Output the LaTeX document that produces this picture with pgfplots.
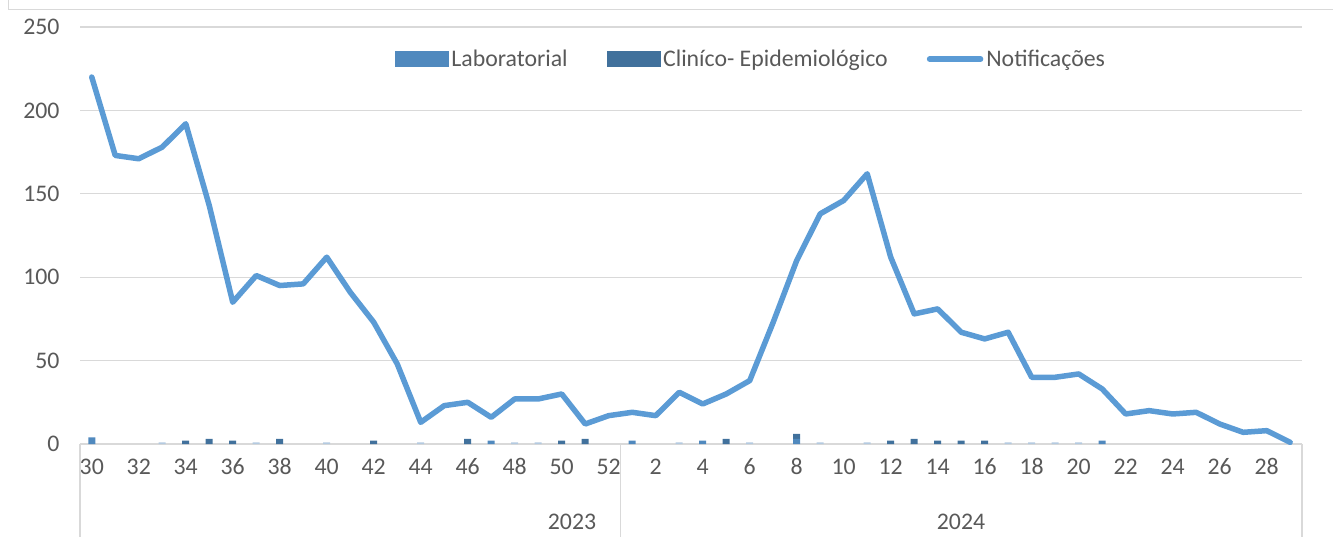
\documentclass[border=0pt]{standalone}
\usepackage{fontspec}
\setmainfont{Carlito}
\usepackage{pgfplots}
\pgfplotsset{compat=1.18}
\usepackage{pgfplotstable}
\definecolor{lab}{HTML}{5089BE}
\definecolor{clin}{HTML}{41719C}
\definecolor{lite}{HTML}{B4CAE0}
\definecolor{notif}{HTML}{5B9BD5}
\definecolor{gridc}{HTML}{D9D9D9}
\definecolor{txt}{HTML}{595959}

\pgfplotstableread{
idx week notif lab clin lite
0 30 220 4 0 0
1 31 173 0 0 0
2 32 171 0 0 0
3 33 178 0 0 1
4 34 192 0 2 0
5 35 143 0 3 0
6 36 85 0 2 0
7 37 101 0 0 1
8 38 95 0 3 0
9 39 96 0 0 0
10 40 112 0 0 1
11 41 91 0 0 0
12 42 73 0 2 0
13 43 48 0 0 0
14 44 13 0 0 1
15 45 23 0 0 0
16 46 25 0 3 0
17 47 16 2 0 0
18 48 27 0 0 1
19 49 27 0 0 1
20 50 30 0 2 0
21 51 12 0 3 0
22 52 17 0 0 0
23 1 19 2 0 0
24 2 17 0 0 0
25 3 31 0 0 1
26 4 24 2 0 0
27 5 30 0 3 0
28 6 38 0 0 1
29 7 73 0 0 0
30 8 110 3 3 0
31 9 138 0 0 1
32 10 146 0 0 0
33 11 162 0 0 1
34 12 112 0 2 0
35 13 78 0 3 0
36 14 81 0 2 0
37 15 67 0 2 0
38 16 63 0 2 0
39 17 67 0 0 1
40 18 40 0 0 1
41 19 40 0 0 1
42 20 42 0 0 1
43 21 33 2 0 0
44 22 18 0 0 0
45 23 20 0 0 0
46 24 18 0 0 0
47 25 19 0 0 0
48 26 12 0 0 0
49 27 7 0 0 0
50 28 8 0 0 0
51 29 1 0 0 0
}\data

\newcommand{\lblfont}{\fontsize{23.8}{28}\selectfont}

\begin{document}
\begin{tikzpicture}
\useasboundingbox (0pt,0pt) rectangle (1333pt,552pt);
\draw[gridc, line width=1pt] (8.5pt,552pt) -- (8.5pt,542.5pt) -- (1333pt,542.5pt);

\begin{axis}[
  at={(80pt,108pt)}, anchor=south west,
  scale only axis, width=1222pt, height=417pt,
  xmin=-0.5, xmax=51.5, ymin=0, ymax=250,
  ytick={0,50,...,250},
  xtick={0,2,...,50},
  xticklabels={30,32,34,36,38,40,42,44,46,48,50,52,2,4,6,8,10,12,14,16,18,20,22,24,26,28},
  axis x line*=bottom, axis y line*=left,
  y axis line style={draw=none},
  x axis line style={gridc, line width=1.5pt, -},
  major tick length=0pt,
  ymajorgrids, grid style={gridc, line width=1.3pt},
  tick label style={font=\lblfont, text=txt},
  /pgf/number format/assume math mode=true,
  yticklabel style={xshift=-17pt},
  xticklabel style={anchor=base, yshift=-30.5pt},
  ybar stacked, bar width=7pt,
  clip=false,
]
\addplot[fill=lab, draw=none] table[x=idx,y=lab]{\data};
\addplot[fill=clin, draw=none] table[x=idx,y=clin]{\data};
\addplot[fill=lite, draw=none] table[x=idx,y=lite]{\data};
\end{axis}

\draw[gridc, line width=1.3pt] (80pt,108pt) -- (80pt,15pt);
\draw[gridc, line width=1.3pt] (620.5pt,108pt) -- (620.5pt,15pt);
\draw[gridc, line width=1.3pt] (1302pt,108pt) -- (1302pt,15pt);
\node[font=\lblfont, text=txt, anchor=base] at (572pt,22.5pt) {2023};
\node[font=\lblfont, text=txt, anchor=base] at (961pt,22.5pt) {2024};

\begin{axis}[
  at={(80pt,108pt)}, anchor=south west,
  scale only axis, width=1222pt, height=417pt,
  xmin=-0.5, xmax=51.5, ymin=0, ymax=250,
  hide axis, clip=false,
  legend columns=3,
  legend style={at={(0.5495,0.923)}, anchor=center, draw=none, fill=none,
    font=\lblfont, text=txt, nodes={inner ysep=2.5pt, inner xsep=3pt},
    /tikz/every even column/.append style={column sep=36pt}},
]
\addlegendimage{legend image code/.code={\fill[lab] (0pt,-7.5pt) rectangle (53pt,7.5pt);}}
\addlegendentry{Laboratorial}
\addlegendimage{legend image code/.code={\fill[clin] (0pt,-7.5pt) rectangle (53pt,7.5pt);}}
\addlegendentry{Cliníco- Epidemiológico}
\addplot[notif, line width=5.5pt, line join=round, line cap=round,
  legend image code/.code={\draw[notif,line width=5.5pt,line cap=round] (2pt,0pt) -- (53pt,0pt);}]
  table[x=idx,y=notif]{\data};
\addlegendentry{Notificações}
\end{axis}
\end{tikzpicture}
\end{document}
